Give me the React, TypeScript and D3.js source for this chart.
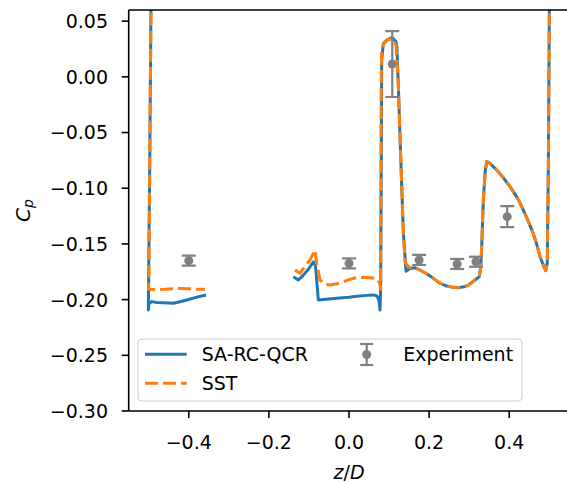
import React from "react";
import * as d3 from "d3";

// Pressure coefficient along z/D for two turbulence models plus measurements.
type Pt = [number, number];

const saLeft: Pt[] = [
  [-0.4937, 0.30], [-0.4945, 0.06], [-0.4975, -0.08], [-0.5005, -0.19], [-0.5010, -0.2093],
  [-0.4995, -0.2035], [-0.492, -0.2018], [-0.48, -0.2025], [-0.4636, -0.2028], [-0.4387, -0.2033],
  [-0.425, -0.2022], [-0.405, -0.2003], [-0.38, -0.1978], [-0.357, -0.1958],
];

const saMain: Pt[] = [
  [-0.139, -0.1794], [-0.1265, -0.1824], [-0.114, -0.178], [-0.100, -0.172], [-0.089, -0.166],
  [-0.0835, -0.170], [-0.0766, -0.2003], [-0.05, -0.1995], [-0.0307, -0.1988], [0.0, -0.1978],
  [0.019, -0.197], [0.045, -0.1962], [0.061, -0.1958], [0.070, -0.1968], [0.075, -0.201],
  [0.0774, -0.2093], [0.0790, -0.19], [0.0803, -0.10], [0.0816, 0.015], [0.0858, 0.030],
  [0.098, 0.0337], [0.108, 0.0354], [0.1174, 0.0316], [0.1195, 0.027], [0.123, -0.0058],
  [0.127, -0.0495], [0.1356, -0.1395], [0.1423, -0.1745], [0.152, -0.172], [0.165, -0.1715],
  [0.177, -0.1734], [0.195, -0.177], [0.2106, -0.1809], [0.228, -0.1855], [0.244, -0.1878],
  [0.260, -0.189], [0.273, -0.1893], [0.287, -0.1885], [0.298, -0.1869], [0.3146, -0.1824],
  [0.3254, -0.1794], [0.329, -0.170], [0.331, -0.1555], [0.3354, -0.1106], [0.340, -0.085],
  [0.344, -0.076], [0.350, -0.077], [0.3688, -0.0836], [0.385, -0.0905], [0.402, -0.0986],
  [0.420, -0.1085], [0.435, -0.1195], [0.448, -0.130], [0.460, -0.1405], [0.470, -0.152],
  [0.477, -0.1615], [0.485, -0.169], [0.491, -0.174], [0.495, -0.167], [0.4977, -0.0807],
  [0.5002, 0.06], [0.501, 0.30],
];

const sstLeft: Pt[] = [
  [-0.4937, 0.30], [-0.4945, 0.06], [-0.4975, -0.08], [-0.4995, -0.18], [-0.5005, -0.1905],
  [-0.495, -0.191], [-0.48, -0.191], [-0.46, -0.1907], [-0.44, -0.1902], [-0.42, -0.19],
  [-0.40, -0.1902], [-0.38, -0.1907], [-0.3595, -0.1908],
];

const sstMain: Pt[] = [
  [-0.1348, -0.1734], [-0.122, -0.1764], [-0.110, -0.170], [-0.0974, -0.1644], [-0.0849, -0.1555],
  [-0.0807, -0.1674], [-0.0724, -0.1824], [-0.06, -0.186], [-0.0474, -0.1869], [-0.03, -0.1858],
  [-0.0142, -0.184], [0.0, -0.182], [0.019, -0.1803], [0.035, -0.18], [0.0524, -0.1803],
  [0.065, -0.181], [0.073, -0.1824], [0.077, -0.186], [0.079, -0.191], [0.0795, -0.10],
  [0.0805, 0.0], [0.0816, 0.024], [0.088, 0.031], [0.094, 0.033], [0.106, 0.034],
  [0.1174, 0.0286], [0.123, -0.0058], [0.127, -0.0495], [0.1356, -0.1395], [0.140, -0.166],
  [0.145, -0.169], [0.152, -0.1712], [0.165, -0.1715], [0.177, -0.1734], [0.195, -0.177],
  [0.2106, -0.1809], [0.228, -0.1855], [0.244, -0.1878], [0.260, -0.189], [0.273, -0.1893],
  [0.287, -0.1885], [0.298, -0.1869], [0.310, -0.184], [0.3146, -0.1815], [0.3254, -0.1794],
  [0.329, -0.170], [0.331, -0.1555], [0.3354, -0.1106], [0.340, -0.085], [0.344, -0.076],
  [0.350, -0.077], [0.3688, -0.0836], [0.385, -0.0905], [0.402, -0.0986], [0.420, -0.1085],
  [0.435, -0.1195], [0.448, -0.130], [0.460, -0.1405], [0.470, -0.152], [0.477, -0.1615],
  [0.485, -0.169], [0.491, -0.174], [0.495, -0.167], [0.4977, -0.0807], [0.5002, 0.06],
  [0.501, 0.30],
];

const expZ = [-0.4, 0.0, 0.108, 0.175, 0.270, 0.317, 0.395];
const expCp = [-0.165, -0.1675, 0.0115, -0.1644, -0.168, -0.166, -0.1255];
const expErr = [0.0045, 0.0045, 0.0296, 0.0045, 0.0045, 0.0045, 0.0094];

const xTicks = [-0.4, -0.2, 0.0, 0.2, 0.4];
const yTicks = [-0.3, -0.25, -0.2, -0.15, -0.1, -0.05, 0.0, 0.05];

const seriesNames = ["SA-RC-QCR", "SST", "Experiment"];

const BLUE = "#1f77b4";
const ORANGE = "#ff7f0e";
const GRAY = "#808080";
const FONT = "DejaVu Sans";

const W = 567;
const H = 483;
const left = 128.7;
const right = 569.3;
const top = 10;
const bottom = 411;

const fmtMinus = (s: string) => s.replace("-", "\u2212");

export default function App() {
  const x = d3.scaleLinear().domain([-0.55, 0.55]).range([left, right]);
  const y = d3.scaleLinear().domain([-0.3, 0.06]).range([bottom, top]);
  const line = d3
    .line<Pt>()
    .x((d) => x(d[0]))
    .y((d) => y(d[1]));

  const lw = 3;
  const dash = "13,5";
  const cap = 7;

  return (
    <svg width={W} height={H} style={{ position: "absolute", left: 0, top: 0, background: "#fff" }}>
      <defs>
        <clipPath id="plotArea">
          <rect x={left} y={top} width={right - left} height={bottom - top} />
        </clipPath>
      </defs>
      <rect x={0} y={0} width={W} height={H} fill="#fff" />

      <g clipPath="url(#plotArea)" fill="none" strokeLinejoin="round">
        {[saLeft, saMain].map((seg, i) => (
          <path key={"sa" + i} d={line(seg) ?? ""} stroke={BLUE} strokeWidth={lw} />
        ))}
        {[sstLeft, sstMain].map((seg, i) => (
          <path key={"sst" + i} d={line(seg) ?? ""} stroke={ORANGE} strokeWidth={lw} strokeDasharray={dash} />
        ))}
        {expZ.map((z, i) => {
          const cx = x(z);
          const y0 = y(expCp[i] - expErr[i]);
          const y1 = y(expCp[i] + expErr[i]);
          return (
            <g key={"e" + i} stroke={GRAY} strokeWidth={2.2}>
              <line x1={cx} x2={cx} y1={y0} y2={y1} />
              <line x1={cx - cap} x2={cx + cap} y1={y0} y2={y0} />
              <line x1={cx - cap} x2={cx + cap} y1={y1} y2={y1} />
              <circle cx={cx} cy={y(expCp[i])} r={4.5} fill={GRAY} stroke="none" />
            </g>
          );
        })}
      </g>

      {/* spines */}
      <g stroke="#000" strokeWidth={1.6} fill="none">
        <line x1={left} x2={left} y1={top} y2={bottom} />
        <line x1={left} x2={W} y1={bottom} y2={bottom} />
        <line x1={left} x2={W} y1={top} y2={top} />
      </g>

      {/* ticks and tick labels */}
      <g fontFamily={FONT} fontSize={19} fill="#000">
        {xTicks.map((t) => (
          <g key={"xt" + t}>
            <line x1={x(t)} x2={x(t)} y1={bottom} y2={bottom + 7} stroke="#000" strokeWidth={1.6} />
            <text x={x(t)} y={449} textAnchor="middle">
              {fmtMinus(d3.format(".1f")(t))}
            </text>
          </g>
        ))}
        {yTicks.map((t) => (
          <g key={"yt" + t}>
            <line x1={left - 7} x2={left} y1={y(t)} y2={y(t)} stroke="#000" strokeWidth={1.6} />
            <text x={108} y={y(t) + 6.9} textAnchor="end">
              {fmtMinus(d3.format(".2f")(t))}
            </text>
          </g>
        ))}
      </g>

      {/* axis labels */}
      <text x={(left + right) / 2} y={478.5} textAnchor="middle" fontFamily={FONT} fontSize={19}>
        <tspan fontStyle="italic">z</tspan>
        <tspan>/</tspan>
        <tspan fontStyle="italic">D</tspan>
      </text>
      <text
        transform={`translate(30, ${(top + bottom) / 2}) rotate(-90)`}
        textAnchor="middle"
        fontFamily={FONT}
        fontSize={20}
      >
        <tspan fontStyle="italic">C</tspan>
        <tspan fontStyle="italic" fontSize={14} dy={3}>p</tspan>
      </text>

      {/* legend */}
      <g fontFamily={FONT} fontSize={19}>
        <rect x={138} y={339} width={384} height={62} rx={4} fill="#fff" fillOpacity={0.8} stroke="#cccccc" strokeWidth={1} />
        <line x1={145} x2={186.7} y1={354.3} y2={354.3} stroke={BLUE} strokeWidth={lw} />
        <text x={201.7} y={361.2}>{seriesNames[0]}</text>
        <line x1={145} x2={186.7} y1={383.3} y2={383.3} stroke={ORANGE} strokeWidth={lw} strokeDasharray={dash} />
        <text x={201.7} y={390.2}>{seriesNames[1]}</text>
        <g stroke={GRAY} strokeWidth={2.2}>
          <line x1={366.7} x2={366.7} y1={344} y2={365} />
          <line x1={366.7 - 6.5} x2={366.7 + 6.5} y1={344} y2={344} />
          <line x1={366.7 - 6.5} x2={366.7 + 6.5} y1={365} y2={365} />
          <circle cx={366.7} cy={354.5} r={4.5} fill={GRAY} stroke="none" />
        </g>
        <text x={403.3} y={361.2}>{seriesNames[2]}</text>
      </g>
    </svg>
  );
}
